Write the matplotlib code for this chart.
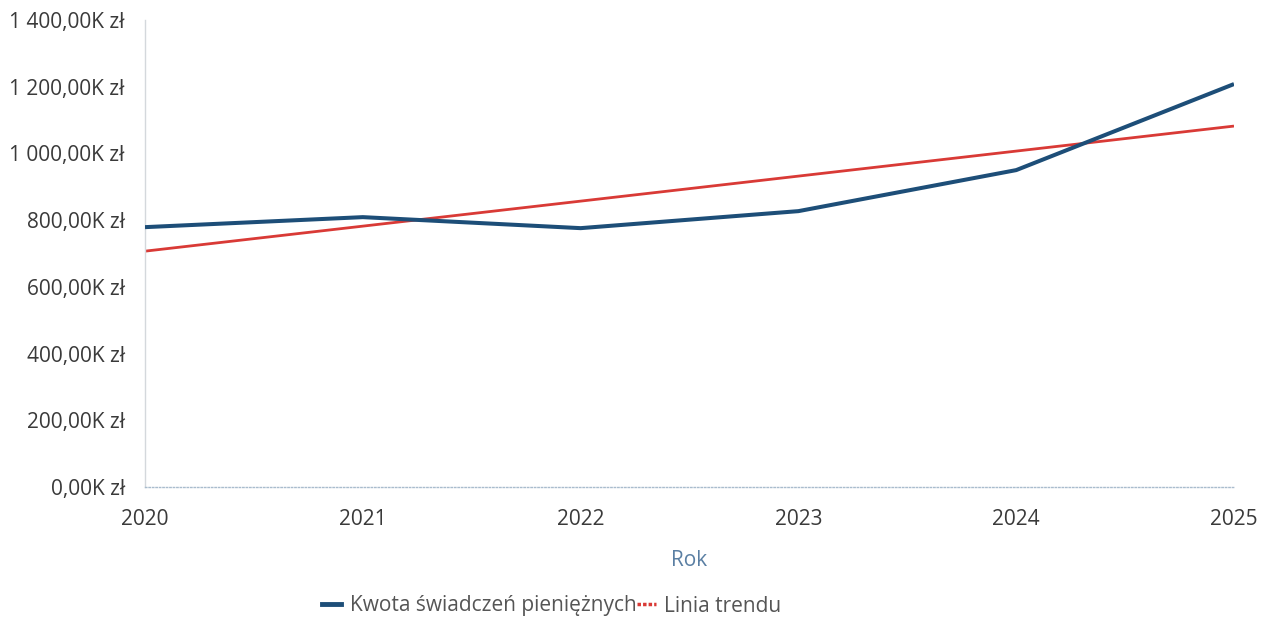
import matplotlib
matplotlib.use("Agg")
import matplotlib.pyplot as plt
from matplotlib.ticker import FuncFormatter
from matplotlib.lines import Line2D

plt.rcParams['font.family'] = ['Open Sans', 'DejaVu Sans']

years = [2020, 2021, 2022, 2023, 2024, 2025]
amount_k = [779, 809, 776, 827, 950, 1208]
trend_years = [2020, 2025]
trend_k = [707, 1082]
y_ticks = [0, 200, 400, 600, 800, 1000, 1200, 1400]
series_label = "Kwota świadczeń pieniężnych"
trend_label = "Linia trendu"
x_title = "Rok"

blue = "#1d4e78"
red = "#d93a36"

fig = plt.figure(figsize=(12.67, 6.21), dpi=100)
ax = fig.add_axes([145/1267, (621-487)/621, (1234-145)/1267, (487-20)/621])

ax.plot(years, amount_k, color=blue, lw=2.9, solid_capstyle='butt', zorder=3)
ax.plot(trend_years, trend_k, color=red, lw=2.0, solid_capstyle='butt', zorder=2)

ax.set_xlim(years[0], years[-1])
ax.set_ylim(0, 1400)
ax.set_xticks(years)
ax.set_xticklabels([str(y) for y in years])
ax.set_yticks(y_ticks)

def fmt(v, pos):
    s = f"{v:,.2f}".replace(",", " ").replace(".", ",")
    return s + "K zł"
ax.yaxis.set_major_formatter(FuncFormatter(fmt))

ax.tick_params(axis='both', length=0, labelsize=15, colors="#3a3a3a")
ax.tick_params(axis='y', pad=14.5)
ax.tick_params(axis='x', pad=15.5)
for s in ['top', 'right']:
    ax.spines[s].set_visible(False)
ax.spines['left'].set_color("#d4d8dc")
ax.spines['left'].set_linewidth(1.0)
ax.spines['bottom'].set_color("#a9bccd")
ax.spines['bottom'].set_linewidth(1.0)
ax.spines['bottom'].set_linestyle((0, (1, 1.5)))

ax.set_xlabel(x_title, fontsize=15, color="#5a7fa3", labelpad=15)

handles = [Line2D([0], [0], color=blue, lw=3.5),
           Line2D([0], [0], color=red, lw=2.5, linestyle=(0, (1, 0.6)))]
fig.legend(handles, [series_label, trend_label], loc='center', bbox_to_anchor=(552/1267, 1 - 606/621),
           ncol=2, frameon=False, fontsize=15, labelcolor="#555555",
           handlelength=0.9, handletextpad=0.4, columnspacing=0.05)

fig.savefig("out.png", dpi=100)
